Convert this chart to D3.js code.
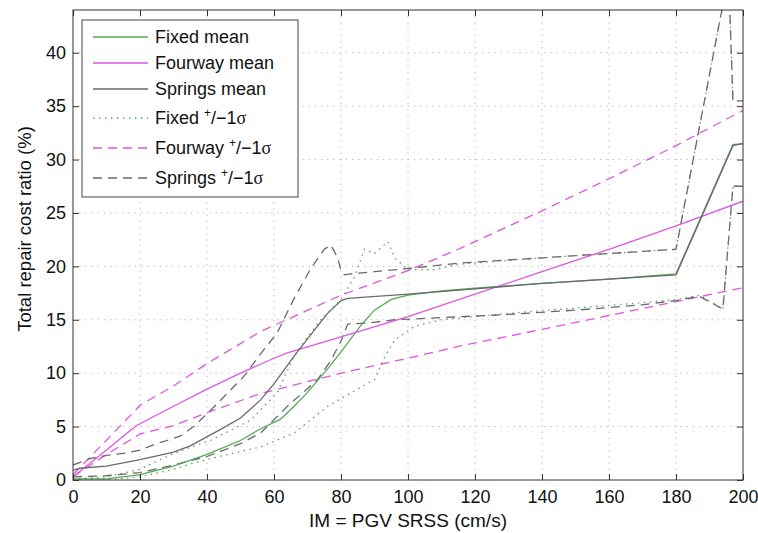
<!DOCTYPE html>
<html>
<head>
<meta charset="utf-8">
<script src="https://cdn.jsdelivr.net/npm/d3@7"></script>
<style>
body { margin: 0; background: #fff; }
svg { font-family: "Liberation Sans", Arial, Helvetica, sans-serif; }
</style>
</head>
<body>
<div id="chart"></div>
<script>
// axis ticks
var xTicks = d3.range(0, 201, 20);
var yTicks = d3.range(0, 41, 5);

// [IM, ratio %]
var fixedMean = [[0,0.1],[10,0.1],[20,0.5],[30,1.3],[40,2.4],[50,3.7],[56,4.8],[62,5.7],[66,6.9],[70,8.2],[76,10.4],[80,12.0],[86,14.5],[90,15.9],[95,16.9],[100,17.3],[110,17.7],[120,17.95],[140,18.4],[160,18.8],[180,19.3],[197,31.4],[200,31.5]];
var fourwayMean = [[0,0.3],[2,0.8],[10,2.8],[17,4.6],[19,5.1],[30,6.9],[40,8.5],[50,10.0],[60,11.4],[64,11.9],[80,13.4],[100,15.3],[120,17.4],[140,19.5],[160,21.6],[180,23.8],[200,26.1]];
var springsMean = [[0,0.9],[2,1.1],[10,1.3],[20,1.9],[30,2.6],[35,3.2],[45,4.9],[50,5.8],[56,7.5],[60,9.0],[66,11.6],[72,14.0],[76,15.6],[80,16.8],[82,17.0],[100,17.4],[120,17.9],[140,18.4],[160,18.8],[180,19.2],[197,31.3],[200,31.5]];

var fixedUp = [[0,0.1],[10,0.3],[20,1.0],[30,2.5],[41,3.7],[53,5.6],[61,8.2],[66,11.6],[70,13.4],[74,15.0],[80,16.9],[84,19.0],[87,21.6],[90,21.2],[94,22.3],[96,20.8],[100,19.7],[108,19.7],[115,20.2],[140,20.8],[160,21.2],[180,21.6],[194,44.5],[196,44.5],[197,35.5],[200,35.5]];
var fixedLo = [[0,0],[10,0],[20,0.3],[30,1.0],[36,1.6],[45,2.3],[56,3.1],[66,4.4],[76,6.9],[86,8.7],[90,9.4],[93,11.5],[96,13.1],[102,14.4],[110,15.0],[130,15.6],[150,16.1],[170,16.6],[180,16.9],[187,17.3],[194,16.0],[197,27.5],[200,27.5]];
var fourwayUp = [[0,0.5],[17,6.0],[20,7.0],[30,8.8],[40,10.9],[56,13.9],[80,17.3],[100,19.6],[115,21.6],[140,25.2],[160,28.2],[180,31.3],[200,34.6]];
var fourwayLo = [[0,0.3],[10,2.4],[20,4.3],[30,5.1],[40,6.3],[56,8.1],[80,10.0],[100,11.4],[115,12.5],[140,14.1],[160,15.4],[180,16.7],[200,18.0]];
var springsUp = [[0,1.4],[5,2.0],[10,2.3],[15,2.5],[20,2.8],[25,3.4],[32,4.1],[36,5.0],[41,6.5],[51,9.7],[56,11.8],[61,13.8],[66,17.0],[71,19.8],[75,21.6],[77,22.0],[79,20.8],[80,19.6],[81,19.2],[83,19.3],[90,19.5],[100,19.8],[115,20.3],[140,20.8],[160,21.2],[180,21.6],[194,44.5],[196,44.5],[197,35.5],[200,35.5]];
var springsLo = [[0,0.3],[10,0.4],[20,0.7],[30,1.4],[40,2.2],[50,3.4],[56,4.4],[64,6.9],[73,9.4],[77,11.2],[80,13.0],[82,14.6],[88,14.7],[96,15.0],[110,15.2],[130,15.5],[150,15.9],[170,16.4],[180,16.8],[187,17.2],[194,16.0],[197,27.5],[200,27.5]];

var green = '#55a855', magenta = '#e055e0', gray = '#6a6a6a';

var series = [
    {name: 'Fixed mean', data: fixedMean, color: green, dash: null, sig: false},
    {name: 'Fourway mean', data: fourwayMean, color: magenta, dash: null, sig: false},
    {name: 'Springs mean', data: springsMean, color: gray, dash: null, sig: false},
    {name: 'Fixed', data: [fixedUp, fixedLo], color: green, dash: '1.5,4.5', sig: true},
    {name: 'Fourway', data: [fourwayUp, fourwayLo], color: magenta, dash: '9,6', sig: true},
    {name: 'Springs', data: [springsUp, springsLo], color: gray, dash: '9,6', sig: true}
];

var cfg = {w: 758, h: 533, mTop: 10, mRight: 15, mBottom: 53, mLeft: 73};
var width = cfg.w - cfg.mLeft - cfg.mRight,
    height = cfg.h - cfg.mTop - cfg.mBottom;

var x = d3.scaleLinear().domain([0, 200]).range([0, width]);
var y = d3.scaleLinear().domain([0, 44]).range([height, 0]);

var svg = d3.select('#chart').append('svg')
    .attr('width', cfg.w)
    .attr('height', cfg.h)
    .append('g')
    .attr('transform', 'translate(' + cfg.mLeft + ',' + cfg.mTop + ')');

svg.append('defs').append('clipPath').attr('id', 'plotclip')
    .append('rect').attr('width', width).attr('height', height);

// dotted grid
svg.append('g').selectAll('line.vg')
    .data(xTicks.slice(1, -1)).enter().append('line')
    .attr('x1', function(d) { return x(d); }).attr('x2', function(d) { return x(d); })
    .attr('y1', 0).attr('y2', height)
    .attr('stroke', '#b4b4b4').attr('stroke-dasharray', '1.2,5');
svg.append('g').selectAll('line.hg')
    .data(yTicks.slice(1)).enter().append('line')
    .attr('y1', function(d) { return y(d); }).attr('y2', function(d) { return y(d); })
    .attr('x1', 0).attr('x2', width)
    .attr('stroke', '#b4b4b4').attr('stroke-dasharray', '1.2,5');

// curves
var line = d3.line()
    .x(function(d) { return x(d[0]); })
    .y(function(d) { return y(d[1]); });

var plot = svg.append('g').attr('clip-path', 'url(#plotclip)');
// sigma curves first, means on top
series.slice(3).concat(series.slice(0, 3)).forEach(function(s) {
    var arr = s.sig ? s.data : [s.data];
    arr.forEach(function(d) {
        plot.append('path')
            .datum(d)
            .attr('d', line)
            .attr('fill', 'none')
            .attr('stroke', s.color)
            .attr('stroke-width', 1.3)
            .attr('stroke-dasharray', s.dash);
    });
});

// axes with inward ticks on all sides
function styleAxis(g) {
    g.select('.domain').remove();
    g.selectAll('.tick line').attr('stroke', '#333');
    g.selectAll('.tick text').attr('fill', '#111').attr('font-family', null).style('font-size', '18px');
}
svg.append('g').attr('transform', 'translate(0,' + height + ')')
    .call(d3.axisBottom(x).tickValues(xTicks).tickSizeInner(-6).tickPadding(10).tickSizeOuter(0))
    .call(styleAxis);
svg.append('g')
    .call(d3.axisTop(x).tickValues(xTicks).tickSizeInner(-6).tickSizeOuter(0).tickFormat(''))
    .call(styleAxis);
svg.append('g')
    .call(d3.axisLeft(y).tickValues(yTicks).tickSizeInner(-6).tickPadding(7).tickSizeOuter(0))
    .call(styleAxis);
svg.append('g').attr('transform', 'translate(' + width + ',0)')
    .call(d3.axisRight(y).tickValues(yTicks).tickSizeInner(-6).tickSizeOuter(0).tickFormat(''))
    .call(styleAxis);

svg.append('rect')
    .attr('width', width).attr('height', height)
    .attr('fill', 'none').attr('stroke', '#333').attr('stroke-width', 1);

// axis titles
svg.append('text')
    .attr('x', width / 2).attr('y', height + 47)
    .attr('text-anchor', 'middle')
    .style('font-size', '19px').attr('fill', '#111')
    .text('IM = PGV SRSS (cm/s)');
svg.append('text')
    .attr('transform', 'translate(' + (-42) + ',' + (height / 2 - 16) + ') rotate(-90)')
    .attr('text-anchor', 'middle')
    .style('font-size', '18.5px').attr('fill', '#111')
    .text('Total repair cost ratio (%)');

// legend
var rowY = [27, 53, 79, 108, 138, 168];
var legend = svg.append('g').attr('transform', 'translate(9,10)');
legend.append('rect')
    .attr('width', 216).attr('height', 177)
    .attr('fill', '#fff').attr('stroke', '#444').attr('stroke-width', 1);
var item = legend.selectAll('.item')
    .data(series).enter().append('g')
    .attr('transform', function(d, i) { return 'translate(0,' + (rowY[i] - 10) + ')'; });
item.append('line')
    .attr('x1', 11).attr('x2', 66).attr('y1', 0).attr('y2', 0)
    .attr('stroke', function(d) { return d.color; })
    .attr('stroke-width', 1.3)
    .attr('stroke-dasharray', function(d) { return d.dash; });
var label = item.append('text')
    .attr('x', 73).attr('y', 6)
    .style('font-size', '18px').attr('fill', '#111');
label.each(function(d) {
    var t = d3.select(this);
    if (!d.sig) { t.text(d.name); return; }
    t.append('tspan').text(d.name + ' ');
    t.append('tspan').attr('dy', -7).style('font-size', '12px').text('+');
    t.append('tspan').attr('dy', 7).text('/\u22121');
    t.append('tspan').style('font-family', '"Liberation Serif", "DejaVu Serif", serif').text('\u03c3');
});
</script>
</body>
</html>
